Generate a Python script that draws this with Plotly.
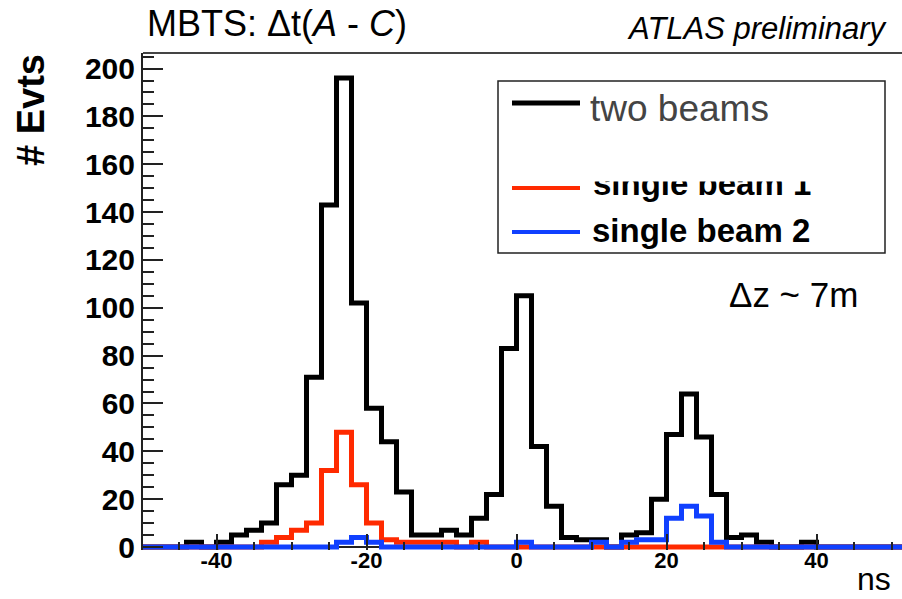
import plotly.graph_objects as go

# ---------------- data (2 ns bins, lower edges -50 ... 50) ----------------
bin_low_edges = list(range(-50, 52, 2))
bin_width = 2

two_beams = [0, 0, 0, 2, 0, 2, 5, 7, 10, 26,
             30, 71, 143, 196, 102, 58, 44, 23, 5, 5,
             7, 5, 12, 22, 83, 105, 42, 17, 4, 3,
             3, 0, 5, 6, 20, 47, 64, 46, 22, 4,
             5, 2, 0, 0, 2, 0, 0, 0, 0, 0, 0]
single_beam_1 = [0, 0, 0, 0, 0, 0, 0, 0, 2, 4,
                 7, 10, 32, 48, 26, 10, 3, 2, 2, 2,
                 2, 0, 2, 0, 0, 0, 0, 0, 0, 0,
                 0, 0, 0, 0, 0, 0, 0, 0, 0, 0,
                 0, 0, 0, 0, 0, 0, 0, 0, 0, 0, 0]
single_beam_2 = [0, 0, 0, 0, 0, 0, 0, 0, 0, 0,
                 0, 0, 0, 2, 4, 2, 0, 0, 0, 0,
                 0, 0, 0, 0, 0, 2, 0, 0, 0, 0,
                 2, 0, 2, 3, 3, 12, 17, 13, 2, 0,
                 0, 0, 0, 0, 0, 0, 0, 0, 0, 0, 0]

x_major_ticks = [-40, -20, 0, 20, 40]
y_major_ticks = list(range(0, 201, 20))

# ---------------- layout geometry ----------------
W, H = 902, 599
PLOT_L, PLOT_T, PLOT_B = 143, 53, 550
L, R, T, B = PLOT_L, 0, PLOT_T, H - PLOT_B
PW, PH = W - L - R, H - T - B
FONT = "Liberation Sans"

def fx(px):
    return (px - PLOT_L) / PW

def fy(py):
    return (PLOT_B - py) / PH

edges = bin_low_edges + [bin_low_edges[-1] + bin_width]

def step(vals):
    return vals + [vals[-1]]

fig = go.Figure()
for name, vals, col in [("two beams", two_beams, "#000000"),
                        ("single beam 1", single_beam_1, "#ff2a00"),
                        ("single beam 2", single_beam_2, "#1040ff")]:
    fig.add_trace(go.Scatter(x=edges, y=step(vals), mode="lines", name=name,
                             line=dict(color=col, width=5, shape="hv"),
                             showlegend=False, hoverinfo="skip"))

# legend text that is partly hidden at its top (clipped by a small invisible subplot)
fig.add_trace(go.Scatter(x=[0], y=[0.93], mode="text", text=["<b>single beam 1</b>"],
                         textposition="middle right",
                         textfont=dict(family=FONT, size=33, color="#000000"),
                         cliponaxis=True, xaxis="x2", yaxis="y2",
                         showlegend=False, hoverinfo="skip"))

fig.update_layout(
    width=W, height=H,
    margin=dict(l=L, r=R, t=T, b=B),
    paper_bgcolor="white", plot_bgcolor="rgba(0,0,0,0)",
    showlegend=False,
    xaxis=dict(range=[-49.8, 51.4], showline=False, zeroline=False, showgrid=False,
               ticks="inside", ticklen=16, tickwidth=1.5, tickcolor="#222",
               tickmode="array", tickvals=x_major_ticks,
               ticktext=[str(v) for v in x_major_ticks],
               ticklabelstandoff=-5,
               minor=dict(ticks="inside", dtick=5, tick0=0, ticklen=8,
                          tickwidth=1.5, tickcolor="#222"),
               tickfont=dict(family=FONT, size=22, color="#000", weight="bold")),
    yaxis=dict(range=[-1.25, 206.5], showline=True, linecolor="#222", linewidth=2,
               zeroline=True, zerolinecolor="#222", zerolinewidth=2, showgrid=False,
               ticks="inside", ticklen=20, tickwidth=1.5, tickcolor="#222",
               tickmode="array", tickvals=y_major_ticks,
               ticktext=[str(v) for v in y_major_ticks],
               minor=dict(ticks="inside", dtick=5, tick0=0, ticklen=11,
                          tickwidth=1.5, tickcolor="#222"),
               tickfont=dict(family=FONT, size=30, color="#000", weight="bold")),
    xaxis2=dict(domain=[fx(593), fx(880)], range=[0, 1], visible=False, anchor="y2"),
    yaxis2=dict(domain=[fy(253), fy(181.5)], range=[0, 1], visible=False, anchor="x2"),
)

shapes = [
    # top frame
    dict(type="line", xref="paper", yref="paper", x0=0, x1=1, y0=1, y1=1,
         line=dict(color="#444", width=2)),
    # legend box
    dict(type="rect", xref="paper", yref="paper", x0=fx(498), x1=fx(885),
         y0=fy(253), y1=fy(81), line=dict(color="#222", width=1.5),
         fillcolor="rgba(255,255,255,0)", layer="above"),
    dict(type="line", xref="paper", yref="paper", x0=fx(512), x1=fx(580),
         y0=fy(103), y1=fy(103), line=dict(color="#000000", width=5)),
    dict(type="line", xref="paper", yref="paper", x0=fx(512), x1=fx(580),
         y0=fy(188), y1=fy(188), line=dict(color="#ff2a00", width=4)),
    dict(type="line", xref="paper", yref="paper", x0=fx(512), x1=fx(580),
         y0=fy(232), y1=fy(232), line=dict(color="#1040ff", width=4)),
]
fig.update_layout(shapes=shapes)

ann = [
    dict(text="MBTS: Δt(<i>A</i> - <i>C</i>)", x=fx(145), y=fy(23), xanchor="left",
         yanchor="middle", font=dict(family=FONT, size=36, color="#000")),
    dict(text="<i>ATLAS preliminary</i>", x=fx(890), y=fy(28), xanchor="right",
         yanchor="middle", font=dict(family=FONT, size=31, color="#000")),
    dict(text="<b># Evts</b>", x=fx(31), y=fy(110), xanchor="center", yanchor="middle",
         textangle=-90, font=dict(family=FONT, size=38, color="#000")),
    dict(text="Δz ~ 7m", x=fx(793), y=fy(294), xanchor="center", yanchor="middle",
         font=dict(family=FONT, size=35, color="#000")),
    dict(text="ns", x=fx(893), y=fy(599), xanchor="right", yanchor="bottom",
         font=dict(family=FONT, size=32, color="#000")),
    dict(text="two beams", x=fx(588), y=fy(109), xanchor="left", yanchor="middle",
         font=dict(family=FONT, size=37, color="#444")),
    dict(text="<b>single beam 2</b>", x=fx(590), y=fy(230), xanchor="left",
         yanchor="middle", font=dict(family=FONT, size=33, color="#000")),
]
for a in ann:
    a.update(xref="paper", yref="paper", showarrow=False)
fig.update_layout(annotations=ann)

fig.write_html("out.html",
               config={"displayModeBar": False},
               post_script="document.body.style.margin='0px';"
                           "document.body.style.padding='0px';")
